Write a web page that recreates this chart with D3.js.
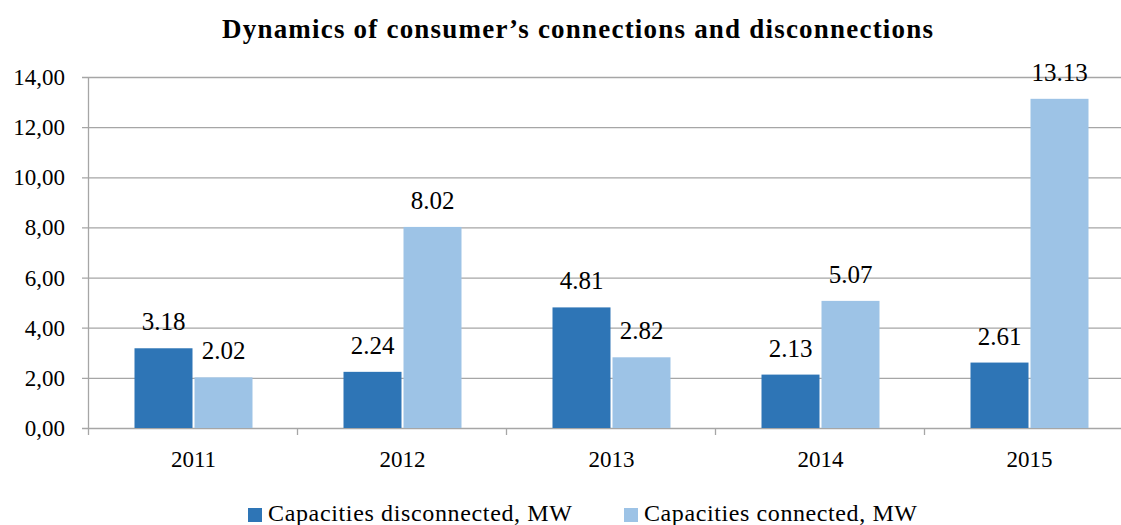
<!DOCTYPE html>
<html>
<head>
<meta charset="utf-8">
<script src="https://d3js.org/d3.v7.min.js"></script>
<style>
	body { margin: 0; background: #fff; }
	text { font-family: 'Liberation Serif', 'DejaVu Serif', serif; fill: #000; }
</style>
</head>
<body>
<script>
const years = ['2011', '2012', '2013', '2014', '2015'];
const disconnected = [3.18, 2.24, 4.81, 2.13, 2.61];
const connected = [2.02, 8.02, 2.82, 5.07, 13.13];
const seriesNames = ['Capacities disconnected, MW', 'Capacities connected, MW'];
const yTicks = [0, 2, 4, 6, 8, 10, 12, 14];

const w = 1121;
const h = 525;
const margin = { top: 77, bottom: 97, left: 89, right: -13 };

const svg = d3.select('body').append('svg').attr('width', w).attr('height', h);

const x = d3.scaleBand().domain(years).range([ margin.left, w - margin.right ]);
const y = d3.scaleLinear().domain([ 0, 14 ]).range([ h - margin.bottom, margin.top ]);

// gridlines
svg.selectAll('.grid')
	.data(yTicks)
	.enter()
	.append('line')
	.attr('x1', margin.left - 7)
	.attr('x2', w - margin.right)
	.attr('y1', d => y(d) + 0.5)
	.attr('y2', d => y(d) + 0.5)
	.attr('stroke', '#a6a6a6')
	.attr('stroke-width', 1.3);

// y axis line
svg.append('line')
	.attr('x1', margin.left - 0.5).attr('x2', margin.left - 0.5)
	.attr('y1', y(14)).attr('y2', y(0) + 7)
	.attr('stroke', '#a6a6a6').attr('stroke-width', 1.3);

// x ticks between categories
svg.selectAll('.xtick')
	.data(years.slice(1))
	.enter()
	.append('line')
	.attr('x1', d => x(d) - 0.5).attr('x2', d => x(d) - 0.5)
	.attr('y1', y(0)).attr('y2', y(0) + 7)
	.attr('stroke', '#a6a6a6').attr('stroke-width', 1.3);

// y tick labels
svg.selectAll('.ylab')
	.data(yTicks)
	.enter()
	.append('text')
	.attr('x', 65)
	.attr('y', d => y(d) + 8)
	.attr('text-anchor', 'end')
	.style('font-size', '23px')
	.text(d => d3.format('.2f')(d).replace('.', ','));

// x labels
svg.selectAll('.xlab')
	.data(years)
	.enter()
	.append('text')
	.attr('x', d => x(d) + x.bandwidth() / 2)
	.attr('y', 467)
	.attr('text-anchor', 'middle')
	.style('font-size', '23px')
	.text(d => d);

const colors = [ '#2e75b6', '#9dc3e6' ];
const barW = 58;
const series = [ disconnected, connected ];

series.forEach(function(vals, s) {
	const data = years.map((yr, i) => ({ year: yr, value: vals[i] }));
	const offset = s === 0 ? -barW - 1 : 1;
	svg.selectAll('.bar' + s)
		.data(data)
		.enter()
		.append('rect')
		.attr('x', d => x(d.year) + x.bandwidth() / 2 + offset)
		.attr('y', d => y(d.value))
		.attr('width', barW)
		.attr('height', d => y(0) - y(d.value))
		.attr('fill', colors[s]);

	svg.selectAll('.val' + s)
		.data(data)
		.enter()
		.append('text')
		.attr('x', d => x(d.year) + x.bandwidth() / 2 + offset + barW / 2)
		.attr('y', d => y(d.value) - 18)
		.attr('text-anchor', 'middle')
		.style('font-size', '25px')
		.text(d => d.value.toFixed(2));
});

// title
svg.append('text')
	.attr('x', 222)
	.attr('y', 38)
	.attr('textLength', 711)
	.style('font-size', '27px')
	.style('font-weight', 'bold')
	.text('Dynamics of consumer\u2019s connections and disconnections');

// legend
const legendX = [ 248, 624 ];
const legendLen = [ 304, 273 ];
seriesNames.forEach(function(name, i) {
	svg.append('rect')
		.attr('x', legendX[i]).attr('y', 508)
		.attr('width', 14).attr('height', 14)
		.attr('fill', colors[i]);
	svg.append('text')
		.attr('x', legendX[i] + 20)
		.attr('y', 521)
		.attr('textLength', legendLen[i])
		.style('font-size', '24px')
		.text(name);
});
</script>
</body>
</html>
